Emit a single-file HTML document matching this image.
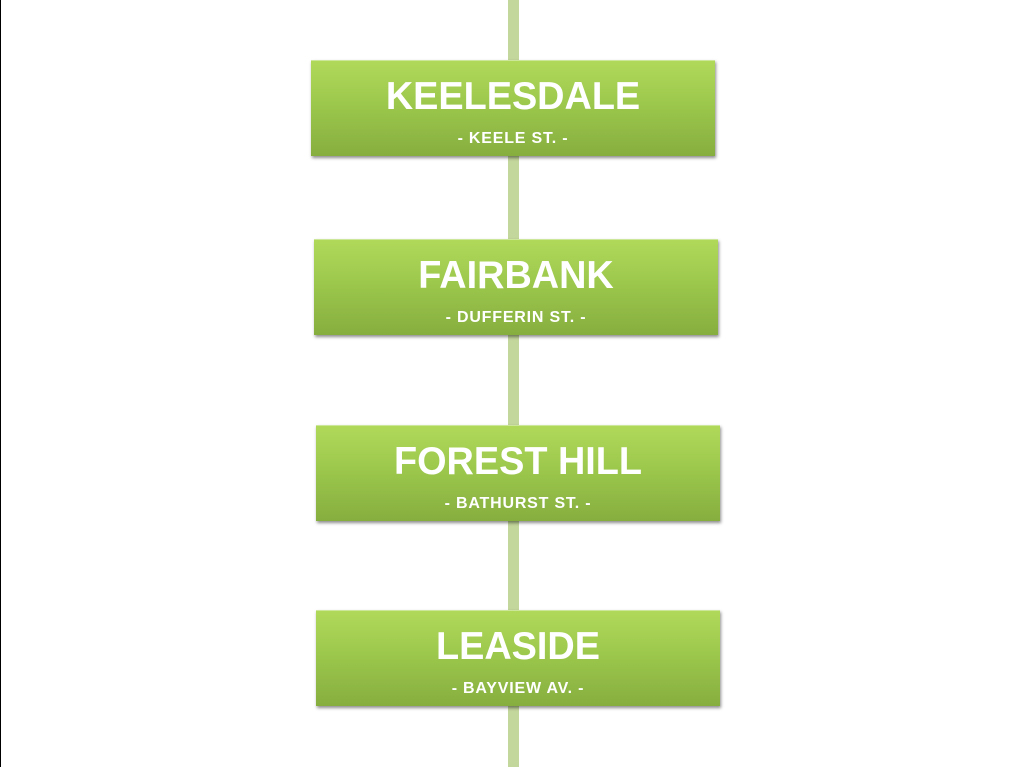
<!DOCTYPE html>
<html><head><style>
html,body{margin:0;padding:0;width:1025px;height:767px;background:#fff;overflow:hidden;position:relative;font-family:"Liberation Sans",sans-serif}
.edge{position:absolute;left:0;top:0;width:1px;height:767px;background:#000}
.line{position:absolute;left:508px;top:0;width:11px;height:767px;background:#c3d69b}
.box{position:absolute;width:404px;height:96px;background:linear-gradient(#b0d95a,#9cc84c 45%,#86ae3f);box-shadow:1px 2px 3px rgba(0,0,0,.45);border-top:1px solid #cde79a;box-sizing:border-box;text-align:center;color:#fff}
.t{font-size:39px;font-weight:bold;margin-top:16px;line-height:40px;transform:scaleX(.97)}
.s{font-size:16px;font-weight:bold;margin-top:13px;letter-spacing:.8px}
</style></head><body>
<div class="edge"></div>
<div class="line"></div>
<div class="box" style="left:311px;top:60px"><div class="t">KEELESDALE</div><div class="s">- KEELE ST. -</div></div>
<div class="box" style="left:314px;top:239px"><div class="t">FAIRBANK</div><div class="s">- DUFFERIN ST. -</div></div>
<div class="box" style="left:316px;top:425px"><div class="t">FOREST HILL</div><div class="s">- BATHURST ST. -</div></div>
<div class="box" style="left:316px;top:610px"><div class="t">LEASIDE</div><div class="s">- BAYVIEW AV. -</div></div>
</body></html>
